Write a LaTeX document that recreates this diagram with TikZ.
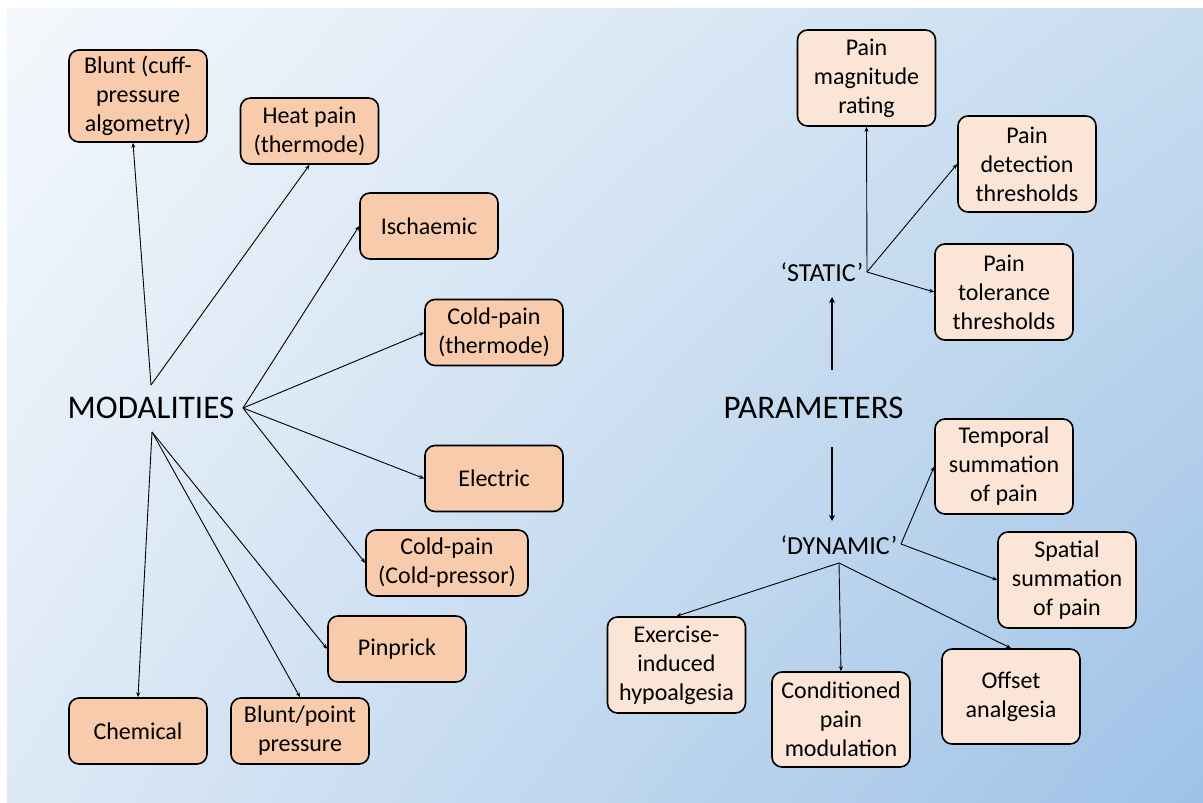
\documentclass[tikz,border=0pt]{standalone}
\usepackage{fontspec}
\setmainfont{Carlito}
\usetikzlibrary{arrows.meta,shadings}
\definecolor{modfill}{HTML}{F8CBAD}
\definecolor{parfill}{HTML}{FBE5D6}
\definecolor{bgTL}{HTML}{F4F8FC}
\definecolor{bgTR}{HTML}{C8DCF0}
\definecolor{bgBL}{HTML}{DDE9F6}
\definecolor{bgBR}{HTML}{9EC2E7}
\begin{document}
\begin{tikzpicture}[x=1pt,y=-1pt,
  box/.style={draw=black, line width=1.6pt, rounded corners=10pt,
    minimum width=138pt, inner sep=0pt, align=center,
    font=\fontsize{24}{29}\selectfont},
  modbox/.style={box, fill=modfill},
  parbox/.style={box, fill=parfill},
  link/.style={line width=0.9pt, -{Stealth[length=5pt,width=4pt]}},
  bigarrow/.style={line width=2.2pt, -{Stealth[length=6pt,width=6pt]}},
  hub/.style={font=\fontsize{33}{40}\selectfont, inner sep=0pt},
  sublabel/.style={font=\fontsize{26}{31}\selectfont, inner sep=0pt}]

% canvas
\useasboundingbox (0,0) rectangle (1203,803);
\shade[upper left=bgTL, upper right=bgTR, lower left=bgBL, lower right=bgBR]
  (7,8) rectangle (1203,803);

% ---------- modalities ----------
\node[hub] (mod) at (151,408) {MODALITIES};
\coordinate (mtop) at (151,385);
\coordinate (mright) at (243,408);
\coordinate (mbot) at (152,432);

\node[modbox, minimum height=92pt] (blunt) at (138,96) {Blunt (cuff-\\pressure\\algometry)};
\node[modbox, minimum height=66pt] (heat) at (309.5,131) {Heat pain\\(thermode)};
\node[modbox, minimum height=66pt] (isch) at (429,226) {Ischaemic};
\node[modbox, minimum height=66pt] (coldT) at (494,332.5) {Cold-pain\\(thermode)};
\node[modbox, minimum height=66pt] (elec) at (494,478.5) {Electric};
\node[modbox, minimum height=66pt, minimum width=162pt] (coldP) at (447,563) {Cold-pain\\(Cold-pressor)};
\node[modbox, minimum height=66pt] (pin) at (397,649) {Pinprick};
\node[modbox, minimum height=66pt] (chem) at (138,731) {Chemical};
\node[modbox, minimum height=66pt] (bpoint) at (300,731) {Blunt/point\\pressure};

\draw[link] (mtop) -- ([xshift=-5pt]blunt.south);
\draw[link] (mtop) -- (heat.south);
\draw[link] (mright) -- (isch.west);
\draw[link] (mright) -- (coldT.west);
\draw[link] (mright) -- (elec.west);
\draw[link] (mright) -- (coldP.west);
\draw[link] (mbot) -- (pin.west);
\draw[link] (mbot) -- (chem.north);
\draw[link] (mbot) -- (bpoint.north);

% ---------- parameters ----------
\node[hub] (par) at (813.5,408) {PARAMETERS};
\node[sublabel] (static) at (822,272) {‘STATIC’};
\node[sublabel] (dynamic) at (839,545) {‘DYNAMIC’};

\coordinate (pup) at (832,370);
\coordinate (stip) at (832,297);
\coordinate (pdown) at (832,447);
\coordinate (dtip) at (832,521);
\draw[bigarrow] (pup) -- (stip);
\draw[bigarrow] (pdown) -- (dtip);

\coordinate (sorig) at (867,272);
\coordinate (dright) at (901,544);
\coordinate (dbot) at (839,563);

\node[parbox, minimum height=96pt] (magn) at (866.5,78) {Pain\\magnitude\\rating};
\node[parbox, minimum height=96pt] (detect) at (1027,164) {Pain\\detection\\thresholds};
\node[parbox, minimum height=96pt] (toler) at (1004,292) {Pain\\tolerance\\thresholds};
\node[parbox, minimum height=95pt] (temporal) at (1004,466.5) {Temporal\\summation\\of pain};
\node[parbox, minimum height=96pt] (spatial) at (1067,580) {Spatial\\summation\\of pain};
\node[parbox, minimum height=96pt] (exercise) at (676.5,665) {Exercise-\\induced\\hypoalgesia};
\node[parbox, minimum height=95pt] (cond) at (841,719.5) {Conditioned\\pain\\modulation};
\node[parbox, minimum height=95pt] (offset) at (1011,696.5) {Offset\\analgesia};

\draw[link] (sorig) -- (magn.south);
\draw[link] (sorig) -- (detect.west);
\draw[link] (sorig) -- (toler.west);
\draw[link] (dright) -- (temporal.west);
\draw[link] (dright) -- (spatial.west);
\draw[link] (dbot) -- (exercise.north);
\draw[link] (dbot) -- (cond.north);
\draw[link] (dbot) -- (offset.north);
\end{tikzpicture}
\end{document}
